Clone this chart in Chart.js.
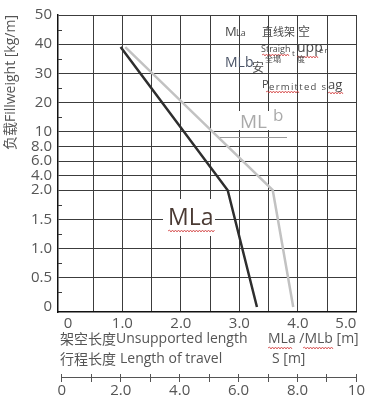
<!DOCTYPE html>
<html>
<head>
<meta charset="utf-8">
<script src="https://cdn.jsdelivr.net/npm/chart.js@4.4.1/dist/chart.umd.min.js"></script>
<style>
  html, body { margin: 0; padding: 0; background: #fff; }
  #wrap { width: 365px; height: 404px; }
</style>
</head>
<body>
<div id="wrap"><canvas id="sagChart" width="365" height="404"></canvas></div>
<script>
// ---- data ----
// load axis (kg/m): non-uniform spacing, one row per label
const loadTickValues = [0, 0.5, 1.0, 1.5, 2.0, 4.0, 6.0, 8.0, 10, 20, 30, 40, 50];
const loadTickLabels = ['0', '0.5', '1.0', '1.5', '2.0', '4.0', '6.0', '8.0', '10', '20', '30', '40', '50'];
const loadTickRows   = [0, 1, 2, 3, 4, 4.5, 5, 5.5, 6, 7, 8, 9, 10];
const loadMinorRows  = [0.5, 1.5, 2.5, 3.5, 6.5, 7.5, 8.5, 9.5];

// unsupported length MLa / MLb [m]
const lengthTicks  = [0, 0.5, 1.0, 1.5, 2.0, 2.5, 3.0, 3.5, 4.0, 4.5, 5.0];
const lengthLabels = ['0', '', '1.0', '', '2.0', '', '3.0', '', '4.0', '', '5.0'];

// length of travel S [m]
const travelTicks  = [0, 1, 2, 3, 4, 5, 6, 7, 8, 9, 10];
const travelLabels = ['0', '', '2.0', '', '4.0', '', '6.0', '', '8.0', '', '10'];

// series
const mlaLength = [0.97, 2.8, 3.3];
const mlaLoad   = [39, 2.0, 0];
const mlbLength = [1.05, 3.57, 3.92];
const mlbLoad   = [39, 2.0, 0];

// kg/m -> row on the y scale (piecewise between labelled rows)
function loadToRow(v) {
  for (let i = 0; i < loadTickValues.length - 1; i++) {
    const a = loadTickValues[i], b = loadTickValues[i + 1];
    if (v >= a && v <= b) {
      return loadTickRows[i] + (v - a) / (b - a) * (loadTickRows[i + 1] - loadTickRows[i]);
    }
  }
  return loadTickRows[loadTickRows.length - 1];
}

function toPoints(xs, ys) {
  return xs.map(function (x, i) { return { x: x, y: loadToRow(ys[i]) }; });
}

const LATIN = "'Open Sans', 'Noto Sans CJK SC', sans-serif";
const TEXT = '#555';
const NOTE = '#4a4a4a';
const GRID = '#3c3c3c';

function wavy(ctx, x1, x2, y) {
  ctx.save();
  ctx.strokeStyle = '#d23c3c';
  ctx.lineWidth = 0.8;
  ctx.beginPath();
  let up = true;
  ctx.moveTo(x1, y);
  for (let x = x1 + 1.5; x <= x2; x += 1.5) {
    ctx.lineTo(x, up ? y - 1 : y + 1);
    up = !up;
  }
  ctx.stroke();
  ctx.restore();
}

function put(ctx, s, x, y, size, color, spacing) {
  ctx.font = size + 'px ' + LATIN;
  ctx.fillStyle = color || TEXT;
  ctx.textAlign = 'left';
  ctx.textBaseline = 'alphabetic';
  ctx.letterSpacing = spacing || '0px';
  ctx.fillText(s, x, y);
  ctx.letterSpacing = '0px';
}

// annotations, minor ticks and the travel scale line
const notesPlugin = {
  id: 'notes',
  afterDraw: function (chart) {
    const ctx = chart.ctx;
    const y = chart.scales.y;
    const x2 = chart.scales.x2;

    ctx.save();
    // minor ticks on the load axis
    ctx.strokeStyle = GRID;
    ctx.lineWidth = 1;
    loadMinorRows.forEach(function (r) {
      const py = Math.round(y.getPixelForValue(r)) + 0.5;
      ctx.beginPath();
      ctx.moveTo(y.right, py);
      ctx.lineTo(y.right + 4, py);
      ctx.stroke();
    });

    // travel scale base line (ticks cross it)
    ctx.strokeStyle = '#555';
    ctx.beginPath();
    ctx.moveTo(x2.getPixelForValue(0), x2.top + 3.5);
    ctx.lineTo(x2.getPixelForValue(10), x2.top + 3.5);
    ctx.stroke();

    // notes, top right
    put(ctx, 'M', 225, 36, 13, NOTE);
    put(ctx, 'La', 236, 36, 9, NOTE);
    put(ctx, '直线架', 262, 36, 11, NOTE);
    put(ctx, '空', 298, 36, 12, NOTE);

    put(ctx, 'Straigh', 261, 52, 9, NOTE);
    put(ctx, 't', 292, 56, 8, NOTE);
    put(ctx, 'upp', 297, 52, 14, NOTE);
    put(ctx, 'er', 319, 53, 8, NOTE, '1px');
    wavy(ctx, 262, 290, 55);
    wavy(ctx, 297, 318, 57);

    put(ctx, 'MLb', 225, 67, 14, '#4a5366');
    put(ctx, '安', 252, 72, 12, NOTE);
    put(ctx, '全塌', 265, 62, 8, NOTE);
    put(ctx, '度', 297, 62, 8, NOTE);

    put(ctx, 'P', 262, 88, 11, NOTE);
    put(ctx, 'ermitted s', 269, 90, 9.5, NOTE, '1.3px');
    put(ctx, 'ag', 328, 89, 13, NOTE);
    wavy(ctx, 266, 300, 92);
    wavy(ctx, 328, 343, 93);

    // ML b label
    ctx.fillStyle = '#fff';
    ctx.fillRect(238, 111, 34, 19);
    put(ctx, 'ML', 240, 128, 19, '#aaa');
    put(ctx, 'b', 273, 121, 17, '#aaa');
    ctx.strokeStyle = '#999';
    ctx.beginPath();
    ctx.moveTo(220, 137.5);
    ctx.lineTo(287, 137.5);
    ctx.stroke();

    // MLa label
    ctx.fillStyle = '#fff';
    ctx.fillRect(163, 199, 52, 37);
    put(ctx, 'MLa', 168, 225, 23, '#4a3a33');
    wavy(ctx, 168, 215, 231);

    // axis captions
    put(ctx, '架空长度', 60, 344, 14, TEXT);
    put(ctx, 'Unsupported length', 116, 343, 14, TEXT);
    put(ctx, 'MLa /MLb [m]', 268, 343, 14, TEXT);
    wavy(ctx, 268, 293, 348);
    wavy(ctx, 303, 333, 348);
    put(ctx, '行程长度', 60, 364, 14, TEXT);
    put(ctx, 'Length of travel', 120, 363, 14, TEXT);
    put(ctx, 'S [m]', 272, 363, 14, TEXT);

    ctx.restore();
  }
};

new Chart(document.getElementById('sagChart'), {
  type: 'line',
  data: {
    datasets: [
      {
        label: 'MLa',
        data: toPoints(mlaLength, mlaLoad),
        borderColor: '#2e2e2e',
        borderWidth: 2.5,
        pointRadius: 0,
        tension: 0
      },
      {
        label: 'MLb',
        data: toPoints(mlbLength, mlbLoad),
        borderColor: '#c2c2c2',
        borderWidth: 2.5,
        pointRadius: 0,
        tension: 0
      }
    ]
  },
  options: {
    responsive: false,
    animation: false,
    layout: { padding: { top: 13, right: 8, bottom: 0, left: 0 } },
    plugins: {
      legend: { display: false },
      tooltip: { enabled: false }
    },
    scales: {
      x: {
        type: 'linear',
        position: 'bottom',
        weight: 0,
        min: -0.1,
        max: 5,
        afterBuildTicks: function (scale) {
          scale.ticks = lengthTicks.map(function (v) { return { value: v }; });
        },
        afterFit: function (scale) { scale.height = 62; },
        grid: {
          color: function (c) { return c.tick && c.tick.value === 0 ? 'rgba(0,0,0,0)' : GRID; },
          lineWidth: 1,
          drawTicks: false
        },
        border: { color: '#111', width: 1.5 },
        ticks: {
          autoSkip: false,
          maxRotation: 0,
          align: 'inner',
          padding: 3,
          color: TEXT,
          font: { family: LATIN, size: 15 },
          callback: function (value) {
            const i = lengthTicks.indexOf(value);
            return i < 0 ? '' : lengthLabels[i];
          }
        }
      },
      x2: {
        type: 'linear',
        position: 'bottom',
        weight: 1,
        min: -0.13,
        max: 10,
        afterBuildTicks: function (scale) {
          scale.ticks = travelTicks.map(function (v) { return { value: v }; });
        },
        afterFit: function (scale) { scale.height = 30; },
        grid: {
          drawOnChartArea: false,
          drawTicks: true,
          tickLength: 8,
          color: '#555',
          lineWidth: 1
        },
        border: { display: false },
        ticks: {
          autoSkip: false,
          maxRotation: 0,
          padding: 0,
          color: TEXT,
          font: { family: LATIN, size: 15 },
          callback: function (value) {
            const i = travelTicks.indexOf(value);
            return i < 0 ? '' : travelLabels[i];
          }
        }
      },
      y: {
        type: 'linear',
        position: 'left',
        min: -0.17,
        max: 10,
        afterBuildTicks: function (scale) {
          scale.ticks = loadTickRows.map(function (v) { return { value: v }; });
        },
        afterFit: function (scale) { scale.width = 58; },
        grid: {
          color: function (c) { return c.tick && c.tick.value === 0 ? 'rgba(0,0,0,0)' : GRID; },
          lineWidth: 1,
          drawTicks: false
        },
        border: { color: '#111', width: 1.5 },
        ticks: {
          autoSkip: false,
          padding: 6,
          color: TEXT,
          font: { family: LATIN, size: 15 },
          callback: function (value) {
            const i = loadTickRows.indexOf(value);
            return i < 0 ? '' : loadTickLabels[i];
          }
        },
        title: {
          display: true,
          text: '负载Fillweight [kg/m]',
          align: 'end',
          color: TEXT,
          font: { family: LATIN, size: 14 },
          padding: { top: 3, bottom: 0 }
        }
      }
    }
  },
  plugins: [notesPlugin]
});
</script>
</body>
</html>
